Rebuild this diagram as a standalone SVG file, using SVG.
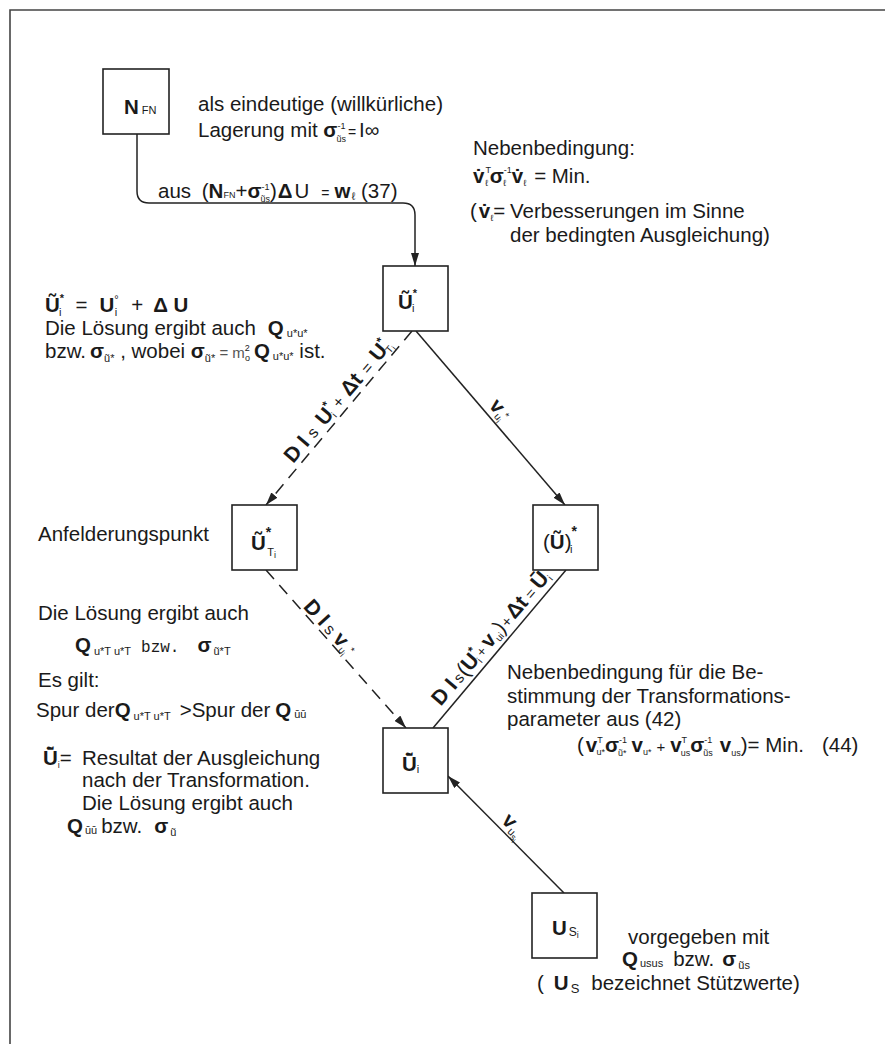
<svg xmlns="http://www.w3.org/2000/svg" width="885" height="1044" viewBox="0 0 885 1044">
<defs>
<style>
.t{font-family:"Liberation Sans",Arial,sans-serif;font-size:20.5px;fill:#1a1a1a}
.lb{font-family:"Liberation Sans",Arial,sans-serif;font-size:21px;fill:#1a1a1a}
.b{font-weight:bold}
.sm{font-size:11px}
.xs{font-size:9px}
.mono{font-family:"Liberation Mono",monospace;font-size:16px}
.box{fill:#fff;stroke:#222;stroke-width:1.6}
.ln{stroke:#222;stroke-width:1.5;fill:none}
.dash{stroke-dasharray:12 8}
.frame{stroke:#444;stroke-width:1.6;fill:none}
</style>
<marker id="ah" viewBox="0 0 13 8" refX="13" refY="4" markerWidth="13" markerHeight="8" markerUnits="userSpaceOnUse" orient="auto">
<path d="M0,0 L13,4 L0,8 Z" fill="#222" stroke="none"/>
</marker>
</defs>
<rect width="885" height="1044" fill="#fff"/>
<path class="frame" d="M10,1044 V10 H885"/>

<g id="connectors">
<path class="ln" d="M137,134 V191 Q137,203 149,203 H403 Q415,203 415,215 V266" marker-end="url(#ah)"/>
<path class="ln dash" d="M412,331 L266,505" marker-end="url(#ah)"/>
<path class="ln" d="M416,331 L565,505" marker-end="url(#ah)"/>
<path class="ln dash" d="M266,570 L406,728" marker-end="url(#ah)"/>
<path class="ln" d="M566,570 L433,728"/>
<path class="ln" d="M564,893 L448,776" marker-end="url(#ah)"/>
<text class="lb" text-anchor="middle" transform="translate(343 405) rotate(-49.8)"><tspan class="b">D I</tspan><tspan font-size="16" dx="6">s</tspan><tspan class="b" dx="8">U</tspan><tspan class="b" font-size="12" dy="-9">*</tspan><tspan font-size="10" dx="-6" dy="12">i</tspan><tspan font-size="16" dx="7" dy="-3">+</tspan><tspan class="b" dx="6">Δt</tspan><tspan font-size="16" dx="7">=</tspan><tspan class="b" dx="7">U</tspan><tspan class="b" font-size="12" dy="-9">*</tspan><tspan font-size="10" dx="-6" dy="12">T</tspan><tspan font-size="8" dy="2">i</tspan></text>
<text class="lb" text-anchor="middle" transform="translate(495 414) rotate(49.8)"><tspan class="b">v</tspan><tspan font-size="10" dy="3">u</tspan><tspan font-size="8" dy="2">i</tspan><tspan font-size="10" dy="-9" dx="-2">*</tspan></text>
<text class="lb" text-anchor="middle" transform="translate(325 632) rotate(47.9)"><tspan class="b">D I</tspan><tspan font-size="16" dx="4">s</tspan><tspan class="b" dx="5">v</tspan><tspan font-size="10" dy="3">u</tspan><tspan font-size="8" dy="2">i</tspan><tspan font-size="10" dy="-9">*</tspan></text>
<text class="lb" text-anchor="middle" transform="translate(496 642) rotate(-49.5)"><tspan class="b">D I</tspan><tspan font-size="15" dx="3">s</tspan><tspan dx="1">(</tspan><tspan class="b">U</tspan><tspan class="b" font-size="12" dy="-9">*</tspan><tspan font-size="10" dx="-6" dy="12">i</tspan><tspan font-size="14" dx="3" dy="-3">+</tspan><tspan class="b" dx="3">v</tspan><tspan font-size="10" dy="3">ui</tspan><tspan dy="-3">)</tspan><tspan font-size="15" dx="1">+</tspan><tspan class="b" dx="2">Δt</tspan><tspan font-size="15" dx="4">=</tspan><tspan class="b" dx="4">Ū</tspan><tspan font-size="10" dy="3">i</tspan></text>
<text class="lb" text-anchor="middle" transform="translate(509 830) rotate(45.7)"><tspan class="b">v</tspan><tspan font-size="11" dy="3">u</tspan><tspan font-size="9" dy="2">s</tspan><tspan font-size="7" dy="2">i</tspan></text>
</g>

<g id="node-nfn">
<rect class="box" x="103" y="69" width="66" height="65"/>
<text class="t b" x="124" y="114" font-size="22">N<tspan class="sm" font-weight="normal" dx="3">FN</tspan></text>
</g>
<g id="node-ustar">
<rect class="box" x="383" y="266" width="65" height="65"/>
<text class="t b" x="398" y="309" font-size="23">Ũ<tspan class="sm" dy="-12">*</tspan><tspan class="sm" font-weight="normal" dx="-5" dy="15">i</tspan></text>
</g>
<g id="node-ut">
<rect class="box" x="232" y="505" width="65" height="65"/>
<text class="t b" x="251" y="550" font-size="23">Ũ<tspan font-size="14" dy="-13">*</tspan><tspan class="sm" font-weight="normal" dx="-4" dy="19">T</tspan><tspan class="xs" font-weight="normal" dy="2">i</tspan></text>
</g>
<g id="node-upar">
<rect class="box" x="533" y="505" width="65" height="65"/>
<text class="t" x="543" y="549" font-size="23">(<tspan class="b">Ũ</tspan>)<tspan font-size="14" class="b" dy="-13">*</tspan><tspan class="sm" dx="-7" dy="17">i</tspan></text>
</g>
<g id="node-ui">
<rect class="box" x="383" y="728" width="65" height="65"/>
<text class="t b" x="402" y="771" font-size="23">Ū̃<tspan class="sm" font-weight="normal" dy="2">i</tspan></text>
</g>
<g id="node-usi">
<rect class="box" x="532" y="893" width="65" height="65"/>
<text class="t b" x="552" y="935" font-size="22">U<tspan font-size="12" font-weight="normal" dx="2" dy="1">S</tspan><tspan class="xs" font-weight="normal" dy="2">i</tspan></text>
</g>

<g id="annotations">
<text class="t" x="198" y="111">als eindeutige (willkürliche)</text>
<text class="t" x="198" y="137">Lagerung mit <tspan class="b">σ</tspan><tspan class="xs" dy="-8">-1</tspan><tspan class="xs" dx="-9" dy="13">ũs</tspan><tspan font-size="14" dx="2" dy="-5">=</tspan><tspan dx="3">I∞</tspan></text>
<text class="t" x="158" y="198">aus <tspan dx="5">(</tspan><tspan class="b">N</tspan><tspan class="xs">FN</tspan><tspan>+</tspan><tspan class="b">σ</tspan><tspan class="xs" dy="-8">-1</tspan><tspan class="xs" dx="-9" dy="12">ũs</tspan><tspan dy="-4">)</tspan><tspan class="b" dx="1">Δ</tspan><tspan dx="2">U</tspan><tspan font-size="14" dx="12">=</tspan><tspan class="b" dx="5">w</tspan><tspan class="sm" dx="1" dy="2">ℓ</tspan><tspan dy="-2" dx="6">(37)</tspan></text>

<text class="t" x="473" y="155">Nebenbedingung:</text>
<text class="t" x="473" y="183"><tspan class="b">v̇</tspan><tspan class="xs" dy="-10" dx="1">T</tspan><tspan class="xs" dx="-6" dy="13">ℓ</tspan><tspan class="b" dy="-3" dx="2">σ</tspan><tspan class="xs" dy="-10">-1</tspan><tspan class="xs" dx="-9" dy="13">ℓ</tspan><tspan class="b" dx="6" dy="-3">v̇</tspan><tspan class="xs" dy="3">ℓ</tspan><tspan dy="-3" dx="8">= Min.</tspan></text>
<text class="t" x="470" y="218">(<tspan class="b" dx="2">v̇</tspan><tspan class="xs" dy="3">ℓ</tspan><tspan dy="-3">=</tspan><tspan x="510">Verbesserungen im Sinne</tspan></text>
<text class="t" x="510" y="242">der bedingten Ausgleichung)</text>

<text class="t" x="45" y="312"><tspan class="b">Ũ</tspan><tspan class="sm b" dy="-10">*</tspan><tspan class="sm" dx="-5" dy="14">i</tspan><tspan dy="-4" dx="14">=</tspan><tspan class="b" dx="12">U</tspan><tspan class="sm" dy="-9">°</tspan><tspan class="sm" dx="-4" dy="13">i</tspan><tspan dy="-4" dx="14">+</tspan><tspan class="b" dx="10">Δ U</tspan></text>
<text class="t" x="45" y="335">Die Lösung ergibt auch<tspan class="b" dx="12">Q</tspan><tspan class="sm" dx="3" dy="2">u*u*</tspan></text>
<text class="t" x="45" y="358">bzw.<tspan class="b" dx="4">σ</tspan><tspan class="sm" dy="4">ũ*</tspan><tspan dy="-4"> , wobei </tspan><tspan class="b">σ</tspan><tspan class="sm" dy="4">ũ*</tspan><tspan dy="-4" font-size="15" fill="#555"> = m</tspan><tspan class="xs" dy="-7">2</tspan><tspan class="xs" dx="-5" dy="10">o</tspan><tspan class="b" dy="-3" dx="4">Q</tspan><tspan class="sm" dx="3" dy="2">u*u*</tspan><tspan dy="-2"> ist.</tspan></text>

<text class="t" x="38" y="541">Anfelderungspunkt</text>
<text class="t" x="38" y="620">Die Lösung ergibt auch</text>
<text class="t" x="75" y="652"><tspan class="b">Q</tspan><tspan class="sm" dx="3" dy="3">u*T u*T</tspan><tspan class="mono" dx="10" dy="-3">bzw.</tspan><tspan class="b" dx="18">σ</tspan><tspan class="sm" dx="2" dy="3">ũ*T</tspan></text>
<text class="t" x="38" y="687">Es gilt:</text>
<text class="t" x="36" y="717">Spur der<tspan class="b">Q</tspan><tspan class="sm" dx="3" dy="3">u*T u*T</tspan><tspan dx="9" dy="-3">&gt;Spur der</tspan><tspan class="b" dx="5">Q</tspan><tspan class="sm" dx="3" dy="1">ūū</tspan></text>
<text class="t" x="43" y="765"><tspan class="b">Ū̃</tspan><tspan class="xs" dy="3">i</tspan><tspan dy="-3">=</tspan><tspan x="82">Resultat der Ausgleichung</tspan></text>
<text class="t" x="82" y="787">nach der Transformation.</text>
<text class="t" x="82" y="810">Die Lösung ergibt auch</text>
<text class="t" x="67" y="833"><tspan class="b">Q</tspan><tspan class="sm" dx="2" dy="1">ūū</tspan><tspan dx="4" dy="-1">bzw.</tspan><tspan class="b" dx="12">σ</tspan><tspan class="sm" dx="2" dy="3">ũ</tspan></text>

<text class="t" x="507" y="679">Nebenbedingung für die Be-</text>
<text class="t" x="507" y="703">stimmung der Transformations-</text>
<text class="t" x="507" y="726">parameter aus (42)</text>
<text class="t" x="577" y="752">(<tspan class="b" dx="2">v</tspan><tspan class="xs" dy="-9">T</tspan><tspan class="xs" dx="-6" dy="12">u*</tspan><tspan class="b" dy="-3">σ</tspan><tspan class="xs" dy="-9">-1</tspan><tspan class="xs" dx="-9" dy="13">ũ*</tspan><tspan class="b" dx="5" dy="-4">v</tspan><tspan class="xs" dy="3">u*</tspan><tspan font-size="15" dx="5" dy="-3">+</tspan><tspan class="b" dx="5">v</tspan><tspan class="xs" dy="-9">T</tspan><tspan class="xs" dx="-6" dy="13">us</tspan><tspan class="b" dy="-4">σ</tspan><tspan class="xs" dy="-9">-1</tspan><tspan class="xs" dx="-9" dy="13">ũs</tspan><tspan class="b" dx="7" dy="-4">v</tspan><tspan class="xs" dy="4">us</tspan><tspan dy="-4">)= Min.</tspan><tspan dx="18">(44)</tspan></text>

<text class="t" x="628" y="944">vorgegeben mit</text>
<text class="t" x="622" y="966"><tspan class="b">Q</tspan><tspan class="sm" dx="2" dy="1">usus</tspan><tspan dx="10" dy="-1">bzw.</tspan><tspan class="b" dx="8">σ</tspan><tspan class="sm" dx="2" dy="3">ũs</tspan></text>
<text class="t" x="537" y="990">(<tspan class="b" dx="10">U</tspan><tspan font-size="13" dx="2" dy="3">S</tspan><tspan dx="12" dy="-3">bezeichnet Stützwerte)</tspan></text>
</g>
</svg>
